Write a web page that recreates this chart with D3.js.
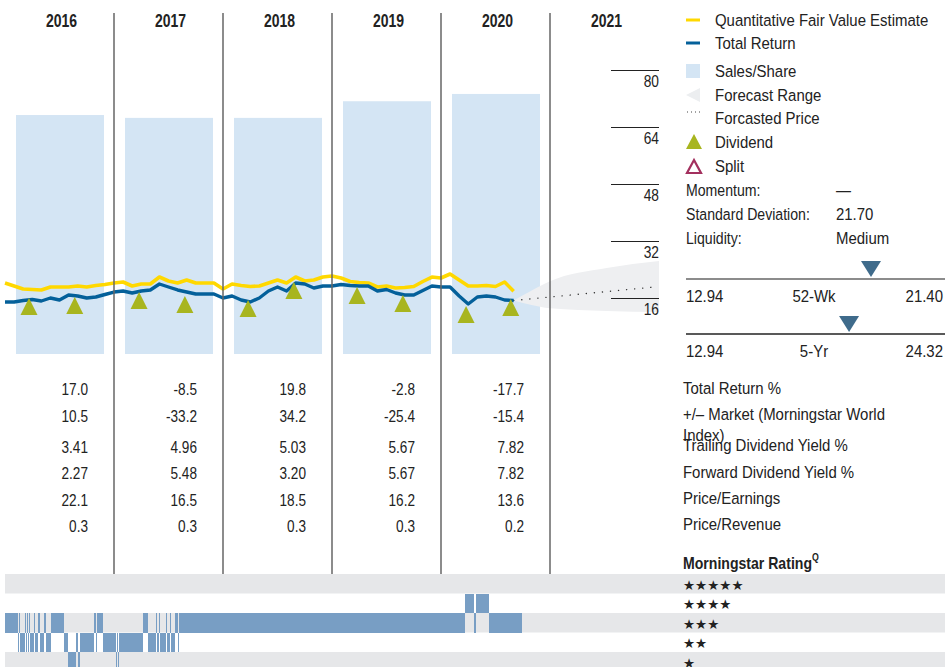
<!DOCTYPE html>
<html>
<head>
<meta charset="utf-8">
<script src="https://cdn.jsdelivr.net/npm/d3@7/dist/d3.min.js"></script>
<style>
  body { margin: 0; background: #fff; }
  svg text { font-family: 'Liberation Sans', Arial, sans-serif; fill: #222; }
</style>
</head>
<body>
<svg id="chart" width="945" height="667"></svg>
<script>
// ---- data ----
var years = [2016, 2017, 2018, 2019, 2020, 2021]
var salesPerShare = [58.9, 58.2, 58.2, 62.3, 64.1]   // 2016..2020
var priceTicks = [16, 32, 48, 64, 80]

// monthly, Jan 2016 .. Sep 2020
var totalReturn = [14.88, 14.88, 15.30, 15.58, 15.16, 16.0, 15.44, 16.84, 16.56, 16.0,
  16.28, 16.98, 17.68, 17.96, 17.40, 17.96, 18.25, 19.93, 19.09, 18.25,
  17.68, 17.12, 17.12, 17.12, 16.0, 16.56, 15.44, 14.88, 16.0, 17.96,
  19.09, 17.96, 20.21, 19.93, 18.81, 19.37, 19.37, 19.79, 19.51, 19.37,
  19.37, 17.96, 18.39, 17.40, 16.84, 16.84, 18.11, 19.37, 19.09, 19.09,
  16.56, 14.32, 16.28, 16.56, 16.28, 15.44, 15.3]
var fairValue = [20.21, 19.37, 18.53, 18.39, 18.25, 19.09, 19.09, 19.09, 19.37, 19.09,
  19.51, 19.79, 20.21, 20.49, 19.37, 19.93, 19.93, 21.89, 20.77, 20.21,
  21.05, 20.21, 20.21, 20.21, 18.53, 19.93, 19.51, 19.23, 19.37, 20.21,
  21.05, 20.21, 21.89, 20.77, 21.05, 21.89, 22.18, 21.61, 20.63, 20.35,
  20.21, 19.09, 19.37, 18.81, 18.95, 19.23, 20.63, 21.89, 21.61, 22.74,
  21.05, 19.37, 19.37, 19.51, 19.23, 20.49, 17.9]

var dividendDates = [2016.22, 2016.64, 2017.23, 2017.65, 2018.23, 2018.65, 2019.23, 2019.65, 2020.23, 2020.64]
var dividendPrices = [16.0, 16.28, 17.68, 16.56, 15.44, 20.49, 19.09, 16.84, 13.75, 15.72]

var forecastDates = [2020.667, 2020.82, 2021.0, 2021.52, 2022.0]
var forecastHigh = [15.3, 17.9, 20.7, 24.4, 26.4]
var forecastLow = [15.3, 14.1, 13.1, 12.35, 12.07]
var forecastPriceDates = [2020.667, 2021.96]
var forecastPrice = [15.3, 19.1]

var legendLabels = ["Quantitative Fair Value Estimate", "Total Return", "Sales/Share",
  "Forecast Range", "Forcasted Price", "Dividend", "Split"]
var statLabels = ["Momentum:", "Standard Deviation:", "Liquidity:"]
var statValues = ["\u2014", "21.70", "Medium"]

var rangeNames = ["52-Wk", "5-Yr"]
var rangeLow = [12.94, 12.94]
var rangeHigh = [21.40, 24.32]
var rangeMarker = [19.03, 20.16]

var tableLabels = [["Total Return %"], ["+/\u2013 Market (Morningstar World", "Index)"],
  ["Trailing Dividend Yield %"], ["Forward Dividend Yield %"], ["Price/Earnings"], ["Price/Revenue"]]
var tableValues = [
  ["17.0", "-8.5", "19.8", "-2.8", "-17.7"],
  ["10.5", "-33.2", "34.2", "-25.4", "-15.4"],
  ["3.41", "4.96", "5.03", "5.67", "7.82"],
  ["2.27", "5.48", "3.20", "5.67", "7.82"],
  ["22.1", "16.5", "18.5", "16.2", "13.6"],
  ["0.3", "0.3", "0.3", "0.3", "0.2"]]

var ratingLevels = [5, 4, 3, 2, 1]
var ratingChanges = [2016.000, 2016.119, 2016.131, 2016.142, 2016.183, 2016.193, 2016.202, 2016.211,
  2016.220, 2016.229, 2016.266, 2016.275, 2016.307, 2016.317, 2016.355, 2016.376, 2016.419,
  2016.541, 2016.578, 2016.651, 2016.670, 2016.688, 2016.819, 2016.832, 2016.844, 2016.896,
  2017.018, 2017.025, 2017.034, 2017.043, 2017.263, 2017.315, 2017.385, 2017.394, 2017.413,
  2017.419, 2017.477, 2017.484, 2017.514, 2017.520, 2017.560, 2017.584, 2017.594,
  2020.220, 2020.303, 2020.317, 2020.440]
var ratingStars = [3, 2, 3, 2, 3, 2, 3, 2,
  3, 2, 3, 2, 3, 2, 3, 2, 3,
  2, 1, 2, 1, 2, 3, 2, 3, 2,
  1, 2, 1, 2, 3, 2, 3, 2, 3,
  2, 3, 2, 3, 2, 3, 2, 3,
  4, 3, 4, 3]
var ratingEnd = 2020.743

// ---- scales ----
var svg = d3.select("#chart")
var x = d3.scaleLinear().domain([2016, 2022]).range([5, 659])
var y = d3.scaleLinear().domain([0, 80]).range([355, 70])
var ySales = d3.scaleLinear().domain([0, 70]).range([354, 70])
var rowBand = d3.scaleBand().domain(ratingLevels).range([574, 671.5])

var BLUE = "#04609a", YELLOW = "#ffd800", OLIVE = "#a8b51f", BAR = "#d4e5f4", RATE = "#789ec4", GREY = "#e6e7e9"

// squeeze text horizontally, the original uses a condensed face
function condense(sel, k) {
  sel.each(function() {
    var tx = +this.getAttribute("x") || 0
    this.setAttribute("transform", `translate(${tx},0) scale(${k},1) translate(${-tx},0)`)
  })
}

// sales/share bars
svg.append("g").selectAll("rect")
  .data(salesPerShare)
  .enter().append("rect")
  .attr("x", (d, i) => x(years[i]) + 11)
  .attr("width", (d, i) => x(years[i] + 1) - x(years[i]) - 21)
  .attr("y", d => ySales(d))
  .attr("height", d => ySales(0) - ySales(d))
  .attr("fill", BAR)

// forecast range cone + forecast price
var fc = forecastDates.map((d, i) => ({ t: d, lo: forecastLow[i], hi: forecastHigh[i] }))
svg.append("path")
  .datum(fc)
  .attr("d", d3.area().curve(d3.curveMonotoneX).x(d => x(d.t)).y0(d => y(d.lo)).y1(d => y(d.hi)))
  .attr("fill", "#eeeff1")

svg.append("path")
  .datum(forecastPriceDates.map((d, i) => [x(d), y(forecastPrice[i])]))
  .attr("d", d3.line())
  .attr("fill", "none")
  .attr("stroke", "#333")
  .attr("stroke-width", 1.4)
  .attr("stroke-linecap", "round")
  .attr("stroke-dasharray", "0.1 8")

// price axis (right side, inside 2021 column)
var axisG = svg.append("g").attr("transform", "translate(659,0)")
  .call(d3.axisLeft(y).tickValues(priceTicks).tickSize(48).tickPadding(0))
axisG.select(".domain").remove()
axisG.selectAll(".tick line").attr("stroke", "#222").attr("stroke-width", 1.2)
axisG.selectAll(".tick text")
  .attr("x", 0).attr("dy", "0").attr("y", 11)
  .attr("text-anchor", "end")
  .attr("dominant-baseline", "central")
  .style("font-size", "16px")
  .attr("fill", "#222")
condense(axisG.selectAll(".tick text"), 0.86)

// lines
var monthly = v => v.map((d, i) => [x(2016 + i / 12), y(d)])
svg.append("path")
  .datum(monthly(fairValue))
  .attr("d", d3.line())
  .attr("fill", "none")
  .attr("stroke", YELLOW)
  .attr("stroke-width", 3.6)
  .attr("stroke-linejoin", "round")
svg.append("path")
  .datum(monthly(totalReturn))
  .attr("d", d3.line())
  .attr("fill", "none")
  .attr("stroke", BLUE)
  .attr("stroke-width", 3.4)
  .attr("stroke-linejoin", "round")

// dividends
svg.append("g").selectAll("path")
  .data(dividendDates)
  .enter().append("path")
  .attr("transform", (d, i) => `translate(${x(d)},${y(dividendPrices[i])})`)
  .attr("d", "M0,0L8.5,17L-8.5,17Z")
  .attr("fill", OLIVE)

// column dividers
svg.append("g").selectAll("line")
  .data(years.slice(1))
  .enter().append("line")
  .attr("x1", d => x(d)).attr("x2", d => x(d))
  .attr("y1", 13).attr("y2", 574)
  .attr("stroke", "#666")
  .attr("stroke-width", 1.5)

// year headers
var yearText = svg.append("g").selectAll("text")
  .data(years)
  .enter().append("text")
  .attr("x", d => x(d + 0.5) + 2)
  .attr("y", 21)
  .attr("text-anchor", "middle")
  .attr("dominant-baseline", "central")
  .style("font-size", "17.5px")
  .style("font-weight", "bold")
  .text(d => d)
condense(yearText, 0.8)

// legend
var lg = svg.append("g").attr("transform", "translate(686,0)")
var legY = [20, 43, 71, 95, 118, 142, 166]
var legText = lg.selectAll("text.leg")
  .data(legendLabels)
  .enter().append("text")
  .attr("class", "leg")
  .attr("x", 29)
  .attr("y", (d, i) => legY[i])
  .attr("dominant-baseline", "central")
  .style("font-size", "17px")
  .text(d => d)
condense(legText, 0.88)
lg.append("line").attr("x1", 0).attr("x2", 14).attr("y1", legY[0]).attr("y2", legY[0]).attr("stroke", YELLOW).attr("stroke-width", 3)
lg.append("line").attr("x1", 0).attr("x2", 14).attr("y1", legY[1]).attr("y2", legY[1]).attr("stroke", BLUE).attr("stroke-width", 3)
lg.append("rect").attr("x", 0).attr("y", legY[2] - 7).attr("width", 14).attr("height", 14).attr("fill", BAR)
lg.append("path").attr("d", `M0,${legY[3]}L14,${legY[3] - 7}L14,${legY[3] + 7}Z`).attr("fill", "#eceef0")
lg.append("line").attr("x1", 1).attr("x2", 15).attr("y1", legY[4] - 6).attr("y2", legY[4] - 6)
  .attr("stroke", "#444").attr("stroke-width", 1).attr("stroke-dasharray", "1 3")
lg.append("path").attr("d", `M8,${legY[5] - 8}L16,${legY[5] + 7}L0,${legY[5] + 7}Z`).attr("fill", OLIVE)
lg.append("path").attr("d", `M8,${legY[6] - 6}L15,${legY[6] + 7}L1,${legY[6] + 7}Z`)
  .attr("fill", "none").attr("stroke", "#a3305e").attr("stroke-width", 2.2)

// stats
var st = svg.append("g").attr("transform", "translate(686,190)")
var stText = st.selectAll("text.sl")
  .data(statLabels)
  .enter().append("text")
  .attr("class", "sl")
  .attr("x", 0)
  .attr("y", (d, i) => i * 24)
  .attr("dominant-baseline", "central")
  .style("font-size", "17px")
  .text(d => d)
condense(stText, 0.83)
var svText = st.selectAll("text.sv")
  .data(statValues)
  .enter().append("text")
  .attr("class", "sv")
  .attr("x", 150)
  .attr("y", (d, i) => i * 24)
  .attr("dominant-baseline", "central")
  .style("font-size", "17px")
  .text(d => d)
condense(svText, 0.88)

// 52-wk / 5-yr ranges
rangeNames.forEach(function(name, i) {
  var ly = 279 + i * 55
  var rs = d3.scaleLinear().domain([rangeLow[i], rangeHigh[i]]).range([686, 943])
  var g = svg.append("g")
  g.append("line").attr("x1", 686).attr("x2", 945).attr("y1", ly).attr("y2", ly)
    .attr("stroke", i ? "#222" : "#666").attr("stroke-width", 1.5)
  g.append("path")
    .attr("transform", `translate(${rs(rangeMarker[i])},${ly - 2})`)
    .attr("d", "M0,0L-10,-16L10,-16Z")
    .attr("fill", "#3f6b8b")
  g.append("text").attr("x", 686).attr("y", ly + 17).attr("dominant-baseline", "central")
    .style("font-size", "17px").text(rangeLow[i].toFixed(2))
  g.append("text").attr("x", 814).attr("y", ly + 17).attr("text-anchor", "middle").attr("dominant-baseline", "central")
    .style("font-size", "17px").text(name)
  g.append("text").attr("x", 943).attr("y", ly + 17).attr("text-anchor", "end").attr("dominant-baseline", "central")
    .style("font-size", "17px").text(rangeHigh[i].toFixed(2))
  condense(g.selectAll("text"), 0.88)
})

// table
var rowY = i => 390 + i * 26.3 + (i >= 2 ? 5 : 0)
var tbl = svg.append("g")
tableValues.forEach(function(row, r) {
  var cells = tbl.append("g").selectAll("text")
    .data(row)
    .enter().append("text")
    .attr("x", (d, c) => x(years[c] + 1) - 26)
    .attr("y", rowY(r))
    .attr("text-anchor", "end")
    .attr("dominant-baseline", "central")
    .style("font-size", "16px")
    .text(d => d)
  condense(cells, 0.85)
  tableLabels[r].forEach(function(line, k) {
    var t = tbl.append("text")
      .attr("x", 683)
      .attr("y", rowY(r) - (k ? 0 : 2) + k * 19)
      .attr("dominant-baseline", "central")
      .style("font-size", "17px")
      .text(line)
    condense(t, 0.88)
  })
})

// rating history
var rg = svg.append("g")
rg.selectAll("rect.band")
  .data(ratingLevels.filter(d => d % 2 == 1))
  .enter().append("rect")
  .attr("class", "band")
  .attr("x", 5).attr("width", 940)
  .attr("y", d => rowBand(d)).attr("height", rowBand.bandwidth())
  .attr("fill", GREY)
rg.selectAll("rect.rate")
  .data(ratingChanges)
  .enter().append("rect")
  .attr("class", "rate")
  .attr("x", d => x(d))
  .attr("width", (d, i) => x(i + 1 < ratingChanges.length ? ratingChanges[i + 1] : ratingEnd) - x(d))
  .attr("y", (d, i) => rowBand(ratingStars[i]))
  .attr("height", rowBand.bandwidth())
  .attr("fill", RATE)
  .attr("shape-rendering", "crispEdges")
rg.selectAll("text.stars")
  .data(ratingLevels)
  .enter().append("text")
  .attr("class", "stars")
  .attr("x", 683)
  .attr("y", d => rowBand(d) + rowBand.bandwidth() / 2 + 1)
  .attr("dominant-baseline", "central")
  .style("font-family", "'DejaVu Sans', sans-serif")
  .style("font-size", "13.5px")
  .text(d => "\u2605".repeat(d))

var title = rg.append("text")
  .attr("x", 683).attr("y", 563)
  .attr("dominant-baseline", "central")
  .style("font-size", "16px")
  .style("font-weight", "bold")
  .text("Morningstar Rating")
title.append("tspan").attr("dy", -6).style("font-size", "10px").text("Q")
condense(title, 0.88)
</script>
</body>
</html>
